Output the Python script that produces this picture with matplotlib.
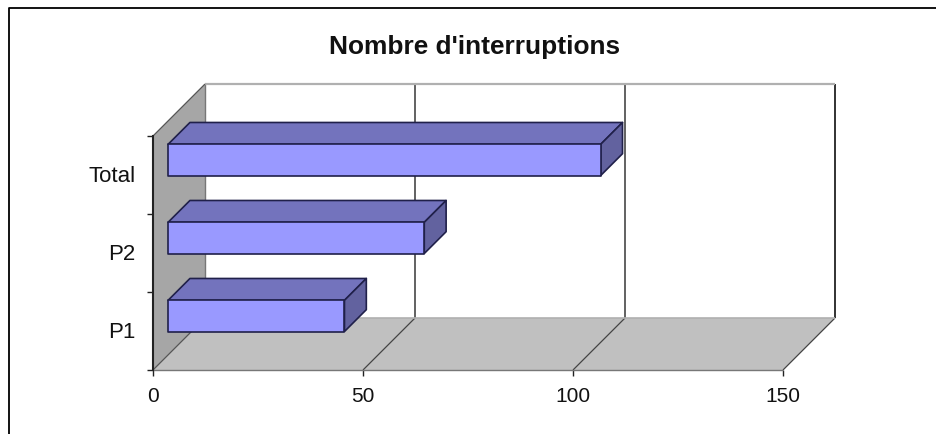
import matplotlib
matplotlib.use("Agg")
import matplotlib.pyplot as plt
from matplotlib.lines import Line2D
from matplotlib.transforms import ScaledTranslation

plt.rcParams['font.family'] = ['Liberation Sans', 'DejaVu Sans']

categories = ["P1", "P2", "Total"]
values = [42, 61, 103]
x_ticks = [0, 50, 100, 150]
title = "Nombre d'interruptions"

W, H = 936, 435
x0, x1 = 153, 783     # front edge of floor, pixels
y0, y1 = 371, 137     # front edge of side wall, pixels
depth_px = 52

fig = plt.figure(figsize=(W/100, H/100), dpi=100)
ax = fig.add_axes([x0/W, 1-y0/H, (x1-x0)/W, (y0-y1)/H])
ax.set_xlim(0, 150)
ax.set_ylim(0, 3)
ax.patch.set_visible(False)

# how far one full unit of depth moves a point, in data units
depth_x = depth_px*150/(x1-x0)
depth_y = depth_px*3/(y0-y1)


def proj(v, c, d):
	return v + d*depth_x, c + d*depth_y


def face(pts, color, edge='none', lw=0, z=1):
	xy = [proj(*p) for p in pts]
	ax.fill([p[0] for p in xy], [p[1] for p in xy], facecolor=color, edgecolor=edge,
		linewidth=lw, clip_on=False, zorder=z, joinstyle='round')


def seg(a, b, color, lw, z=2):
	pa, pb = proj(*a), proj(*b)
	ax.plot([pa[0], pb[0]], [pa[1], pb[1]], color=color, linewidth=lw, clip_on=False, zorder=z,
		solid_capstyle='butt')


xmax = x_ticks[-1]
ymax = len(categories)

# walls and floor
face([(0, 0, 0), (0, ymax, 0), (0, ymax, 1), (0, 0, 1)], '#a6a6a6')
face([(0, 0, 0), (xmax, 0, 0), (xmax, 0, 1), (0, 0, 1)], '#c0c0c0')

# gridlines on back wall and floor
for t in x_ticks[1:]:
	col = '#222222' if t == xmax else '#555555'
	seg((t, 0, 1), (t, ymax, 1), col, 1.3)
	seg((t, 0, 0), (t, 0, 1), '#444444', 0.9)
seg((0, 0, 0), (0, 0, 1), '#555555', 0.9)
seg((0, 0, 1), (0, ymax, 1), '#777777', 1.0)
seg((0, ymax, 1), (xmax, ymax, 1), '#b0b0b0', 1.6)
seg((0, 0, 1), (xmax, 0, 1), '#b0b0b0', 1.2)
seg((0, ymax, 0), (0, ymax, 1), '#555555', 0.9)
seg((0, 0, 0), (xmax, 0, 0), '#777777', 1.0)

# bars
d_front, d_back = 0.29, 0.71
bar_h = 0.4
edge = '#20204a'
for i, v in enumerate(values):
	b = i + 0.5 - bar_h/2
	t = i + 0.5 + bar_h/2
	z = 5 + i
	face([(0, t, d_front), (v, t, d_front), (v, t, d_back), (0, t, d_back)], '#7373bd', edge, 1.2, z)
	face([(v, b, d_front), (v, t, d_front), (v, t, d_back), (v, b, d_back)], '#62629f', edge, 1.2, z)
	face([(0, b, d_front), (v, b, d_front), (v, t, d_front), (0, t, d_front)], '#9999ff', edge, 1.2, z)

# axes
for s in ['top', 'right']:
	ax.spines[s].set_visible(False)
ax.spines['bottom'].set_visible(False)
ax.spines['left'].set_color('#222222')
ax.spines['left'].set_linewidth(1.5)
ax.set_xticks(x_ticks)
ax.set_yticks(range(ymax+1))
ax.set_yticklabels([])
ax.set_yticks([i+0.5 for i in range(ymax)], minor=True)
ax.set_yticklabels(categories, minor=True)
ax.tick_params(axis='y', which='minor', length=0, pad=12.5, labelsize=16, labelcolor='#111111')
ax.tick_params(axis='y', which='major', length=4.5, width=1.0, color='#222222')
ax.tick_params(axis='x', length=4.5, width=1.0, color='#222222', pad=7, labelsize=15, labelcolor='#111111')

# labels sit a little above the middle of each band
for lab in ax.get_yticklabels(minor=True):
	lab.set_transform(lab.get_transform() + ScaledTranslation(0, 1.5/72, fig.dpi_scale_trans))

fig.text(475/W, 1-47/H, title, ha='center', va='center', fontsize=18.9, fontweight='bold', color='#111111')

# outer frame, cut by the image edge on the right and bottom
fig.add_artist(Line2D([9/W, 9/W, 1], [0, 1-9/H, 1-9/H], color='black', linewidth=1.3))

fig.savefig("out.png", dpi=100)
